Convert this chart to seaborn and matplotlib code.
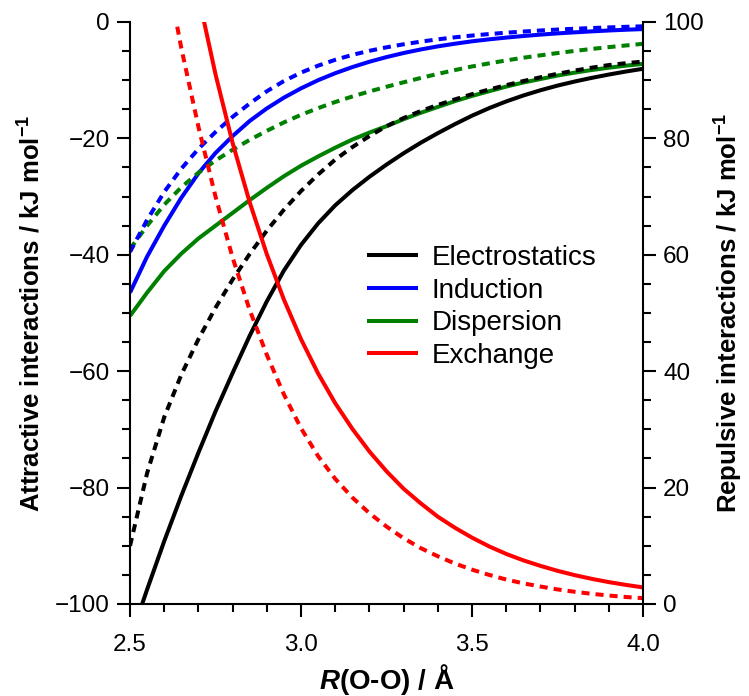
import matplotlib
matplotlib.use("Agg")
import matplotlib.pyplot as plt
from matplotlib.lines import Line2D
from matplotlib.ticker import MultipleLocator, FormatStrFormatter
import seaborn as sns

# O-O separation (Angstrom)
r_oo = [2.50, 2.55, 2.60, 2.65, 2.70, 2.75, 2.80, 2.85, 2.90, 2.95,
        3.00, 3.05, 3.10, 3.15, 3.20, 3.25, 3.30, 3.35, 3.40, 3.45,
        3.50, 3.55, 3.60, 3.65, 3.70, 3.75, 3.80, 3.85, 3.90, 3.95, 4.00]

# Attractive terms (kJ/mol): solid and dashed variants
elst_solid = [-106.1, -97.5, -89.2, -81.4, -74.0, -66.9, -60.3, -53.9, -48.0, -42.7,
              -38.3, -34.6, -31.5, -28.9, -26.6, -24.5, -22.55, -20.75, -19.1, -17.55,
              -16.1, -14.8, -13.65, -12.63, -11.73, -10.93, -10.23, -9.6, -9.03, -8.51, -8.04]
elst_dashed = [-90, -77.5, -67.9, -60.6, -54.5, -49.1, -44.25, -39.85, -35.85, -32.25,
               -29.05, -26.2, -23.65, -21.5, -19.6, -17.9, -16.5, -15.3, -14.25, -13.3,
               -12.4, -11.6, -10.85, -10.15, -9.5, -8.9, -8.35, -7.85, -7.4, -7.08, -6.8]
ind_solid = [-46.5, -40.3, -35.0, -30.2, -26.0, -22.5, -19.6, -17.0, -14.85, -13.0,
             -11.4, -10.0, -8.8, -7.75, -6.83, -6.03, -5.33, -4.72, -4.19, -3.73,
             -3.32, -2.98, -2.68, -2.41, -2.17, -1.96, -1.78, -1.61, -1.46, -1.33, -1.22]
ind_dashed = [-39.5, -34.0, -29.2, -25.2, -21.8, -18.9, -16.3, -14.0, -11.9, -10.15,
              -8.7, -7.5, -6.5, -5.65, -4.95, -4.35, -3.83, -3.38, -2.98, -2.63,
              -2.33, -2.07, -1.84, -1.64, -1.46, -1.3, -1.16, -1.04, -0.93, -0.83, -0.74]
disp_solid = [-50.5, -46.5, -42.8, -39.8, -37.2, -35, -32.8, -30.6, -28.5, -26.5,
              -24.7, -23.1, -21.6, -20.2, -19.0, -17.9, -16.7, -15.6, -14.6, -13.6,
              -12.7, -11.9, -11.1, -10.4, -9.8, -9.2, -8.7, -8.25, -7.85, -7.5, -7.2]
disp_dashed = [-39, -35.0, -31.4, -28.4, -25.9, -23.8, -21.95, -20.25, -18.7, -17.25,
               -15.95, -14.8, -13.75, -12.8, -11.93, -11.13, -10.36, -9.62, -8.92, -8.26,
               -7.64, -7.11, -6.6, -6.14, -5.73, -5.34, -4.97, -4.63, -4.32, -4.03, -3.75]

# Repulsive exchange term (kJ/mol), starting where it enters the plot
r_exch_solid = r_oo[3:]
exch_solid = [120.0, 104.5, 91.0, 79.2, 69.0, 60.1, 52.3, 45.5, 39.6, 34.5,
              30.1, 26.2, 22.8, 19.8, 17.3, 15.0, 13.1, 11.4, 9.9, 8.6,
              7.5, 6.55, 5.7, 4.96, 4.32, 3.76, 3.28, 2.85]
r_exch_dashed = r_oo[2:]
exch_dashed = [111, 95.5, 82, 70, 59.5, 50.5, 42.8, 36, 30.2, 25.4,
               21.5, 18.3, 15.6, 13.3, 11.3, 9.6, 8.2, 6.95, 5.9, 5.0,
               4.2, 3.55, 3.0, 2.5, 2.1, 1.75, 1.45, 1.2, 1.0]

labels = ["Electrostatics", "Induction", "Dispersion", "Exchange"]
colors = ["#000000", "#0000ff", "#008000", "#ff0000"]

sns.set_style("ticks")
plt.rcParams.update({
    "font.family": ["Liberation Sans", "DejaVu Sans"],
    "mathtext.fontset": "custom",
    "mathtext.rm": "Liberation Sans:bold",
    "mathtext.bf": "Liberation Sans:bold",
    "mathtext.it": "Liberation Sans:italic:bold",
    "axes.linewidth": 1.5,
    "text.color": "black",
    "axes.labelcolor": "black",
    "axes.edgecolor": "black",
    "xtick.color": "black",
    "ytick.color": "black",
})

LW = 2.9
DASH = (0, (2.0, 1.5))

fig = plt.figure(figsize=(7.49, 6.96), dpi=100)
ax = fig.add_axes([0.1736, 0.1322, 0.6849, 0.8362])
ax2 = ax.twinx()


def draw(axis, x, y, color, dashed=False):
    sns.lineplot(x=x, y=y, ax=axis, color=color, linewidth=LW,
                 estimator=None, sort=False, legend=False)
    line = axis.lines[-1]
    line.set_solid_joinstyle("round")
    if dashed:
        line.set_linestyle(DASH)
        line.set_dash_capstyle("butt")
    else:
        line.set_solid_capstyle("butt")


# attractive terms on the left axis: solids first, dashed on top
draw(ax, r_oo, disp_solid, colors[2])
draw(ax, r_oo, ind_solid, colors[1])
draw(ax, r_oo, elst_solid, colors[0])
draw(ax, r_oo, disp_dashed, colors[2], dashed=True)
draw(ax, r_oo, elst_dashed, colors[0], dashed=True)
draw(ax, r_oo, ind_dashed, colors[1], dashed=True)

# repulsive exchange on the right axis
draw(ax2, r_exch_solid, exch_solid, colors[3])
draw(ax2, r_exch_dashed, exch_dashed, colors[3], dashed=True)

ax.set_xlim(2.5, 4.0)
ax.set_ylim(-100, 0)
ax2.set_ylim(0, 100)

ax.xaxis.set_major_locator(MultipleLocator(0.5))
ax.xaxis.set_minor_locator(MultipleLocator(0.1))
ax.xaxis.set_major_formatter(FormatStrFormatter("%.1f"))
ax.yaxis.set_major_locator(MultipleLocator(20))
ax.yaxis.set_minor_locator(MultipleLocator(5))
ax2.yaxis.set_major_locator(MultipleLocator(20))
ax2.yaxis.set_minor_locator(MultipleLocator(5))

for a in (ax, ax2):
    a.tick_params(which="major", direction="out", length=9.4, width=1.5,
                  labelsize=17.5, color="black", labelcolor="black")
    a.tick_params(which="minor", direction="out", length=5.8, width=1.5,
                  color="black")
    a.spines["top"].set_visible(False)
    for s in a.spines.values():
        s.set_linewidth(1.5)
        s.set_color("black")
ax.tick_params(axis="x", which="major", pad=12)
ax.tick_params(axis="y", which="major", pad=5)
ax2.tick_params(axis="y", which="major", pad=5)
ax2.spines["left"].set_visible(False)
ax2.spines["bottom"].set_visible(False)
ax.spines["right"].set_visible(False)

ax.set_xlabel(r"$\mathit{R}$(O-O) / Å", fontsize=20, fontweight="bold")
ax.set_ylabel(r"Attractive interactions / kJ mol$^{\mathbf{-1}}$",
              fontsize=18.5, fontweight="bold")
ax2.set_ylabel(r"Repulsive interactions / kJ mol$^{\mathbf{-1}}$",
               fontsize=18.5, fontweight="bold")
ax.xaxis.set_label_coords(0.5, -0.1)
ax.yaxis.set_label_coords(-0.166, 0.5)
ax2.yaxis.set_label_coords(1.136, 0.5)

handles = [Line2D([], [], color=c, linewidth=LW, solid_capstyle="butt")
           for c in colors]
ax2.legend(handles, labels, loc="upper left",
           bbox_to_anchor=(0.49, 0.648), bbox_transform=fig.transFigure,
           frameon=False, fontsize=20, handlelength=1.83,
           handletextpad=0.5, labelspacing=0.24, borderpad=0,
           borderaxespad=0)

fig.savefig("out.png", dpi=100, facecolor="white")
